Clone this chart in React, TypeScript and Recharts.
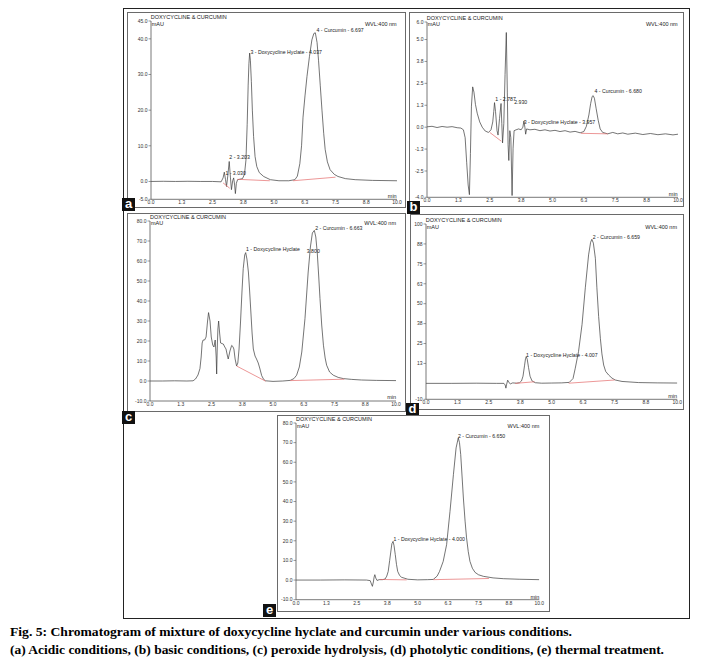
import React from 'react'
import { LineChart, Line, XAxis, YAxis, ReferenceDot } from 'recharts'

type Pt = [number, number | null]
type Note = [string, number, number]

// retention time axis, shared by all five runs
const minuteTicks = [0, 1.25, 2.5, 3.75, 5, 6.25, 7.5, 8.75, 10]

// (a) acidic
const traceA: Pt[] = [
  [0, 0], [0.5, 0.05], [1.0, 0], [1.5, 0.05], [2.0, 0], [2.5, 0], [2.85, -0.1], [2.93, 1.0], [2.98, 2.6],
  [3.03, 0.5], [3.07, -1.4], [3.12, 1.5], [3.18, 5.6], [3.23, 1.0], [3.27, -2.3], [3.32, 0.2], [3.36, 1.0],
  [3.4, -1.0], [3.43, -3.4], [3.47, -0.5], [3.52, 0.5], [3.6, 0.6], [3.72, 0.8], [3.8, 2.0], [3.86, 6],
  [3.91, 16], [3.95, 27], [3.98, 33], [4.01, 36], [4.04, 34], [4.08, 28], [4.12, 20], [4.17, 12.6], [4.23, 7],
  [4.3, 4.2], [4.4, 2.5], [4.58, 1.4], [4.85, 0.5], [5.2, 0.2], [5.6, 0.2], [5.85, 0.5], [5.95, 1.5], [6.05, 5],
  [6.12, 10], [6.18, 18], [6.26, 24], [6.34, 29.4], [6.44, 35], [6.54, 39.7], [6.62, 41.5], [6.68, 41.7],
  [6.75, 39], [6.81, 34], [6.88, 27], [6.95, 20], [7.02, 13.5], [7.08, 9], [7.17, 5.5], [7.28, 3.3], [7.45, 2.0],
  [7.6, 1.4], [7.9, 0.8], [8.3, 0.5], [9.0, 0.3], [10, 0.2],
]
const baseA: Pt[] = [[2.93, -0.4], [3.2, -1.9], [3.3, null], [3.52, 0.6], [4.83, 0.2], [5.2, null], [5.77, 0.2], [7.5, 1.2]]
const notesA: Note[] = [
  ['4 - Curcumin - 6.697', 6.72, 42.5],
  ['3 - Doxycycline Hyclate - 4.037', 4.04, 36.4],
  ['2 - 3.203', 3.18, 6.9],
  ['1 - 3.030', 3.02, 2.4],
]
const yTicksA = [-5, 0, 10, 20, 30, 40, 45]

// (b) basic
const traceB: Pt[] = [
  [0, 0.02], [0.2, 0.05], [0.4, -0.02], [0.6, 0.04], [0.8, 0.0], [1.0, 0.03], [1.2, -0.03], [1.35, -0.05],
  [1.45, -0.15], [1.52, -0.6], [1.58, -2.0], [1.64, -3.3], [1.69, -3.85], [1.73, -1.5], [1.77, 1.2], [1.82, 2.3],
  [1.87, 2.0], [1.93, 1.3], [2.0, 0.8], [2.1, 0.3], [2.2, 0.0], [2.32, -0.22], [2.45, -0.3], [2.55, -0.15],
  [2.62, 0.3], [2.66, 0.9], [2.69, 1.4], [2.73, 0.9], [2.79, -0.2], [2.83, -0.45], [2.89, 0.5], [2.95, 1.35],
  [2.98, 0.2], [3.01, -0.9], [3.06, 0.2], [3.11, 3.0], [3.16, 5.4], [3.2, 2.0], [3.23, -1.0], [3.26, -1.9],
  [3.3, -0.2], [3.34, -0.6], [3.39, -3.9], [3.43, -1.2], [3.47, -0.2], [3.55, -0.15], [3.65, -0.1], [3.75, -0.15],
  [3.82, 0.0], [3.86, 0.35], [3.9, 0.0], [3.93, -0.4], [3.97, -0.1], [4.1, -0.15], [4.3, -0.12], [4.5, -0.2],
  [4.7, -0.15], [4.9, -0.22], [5.1, -0.18], [5.3, -0.25], [5.5, -0.2], [5.7, -0.28], [5.9, -0.24], [6.1, -0.32],
  [6.25, -0.25], [6.35, 0.05], [6.45, 0.7], [6.52, 1.35], [6.58, 1.75], [6.62, 1.8], [6.67, 1.65], [6.74, 1.05],
  [6.82, 0.4], [6.9, -0.1], [7.0, -0.3], [7.2, -0.38], [7.4, -0.3], [7.6, -0.38], [7.8, -0.33], [8.0, -0.4],
  [8.3, -0.34], [8.6, -0.42], [8.9, -0.36], [9.2, -0.43], [9.5, -0.38], [9.8, -0.44], [10, -0.4],
]
const baseB: Pt[] = [[2.5, -0.3], [2.96, -0.8], [3.0, null], [6.13, -0.35], [7.2, -0.38]]
const notesB: Note[] = [
  ['1 - 2.787', 2.72, 1.62],
  ['2.930', 3.47, 1.42],
  ['3 - Doxycycline Hyclate - 3.957', 3.85, 0.27],
  ['4 - Curcumin - 6.680', 6.67, 2.06],
]
const yTicksB = [-4, -2.5, -1.25, 0, 1.25, 2.5, 3.75, 5, 6]

// (c) peroxide
const traceC: Pt[] = [
  [0, 0], [0.5, 0], [1.0, 0.1], [1.5, 0], [1.75, 0.1], [1.85, 1], [1.95, 3], [2.03, 6.2], [2.08, 12], [2.12, 19],
  [2.16, 20.5], [2.22, 20.5], [2.28, 22], [2.34, 30], [2.38, 34.2], [2.44, 30], [2.49, 22], [2.55, 18], [2.6, 17],
  [2.65, 20.5], [2.69, 12], [2.71, 3.5], [2.73, 15], [2.76, 26], [2.79, 30], [2.83, 24], [2.87, 19], [2.93, 18.7],
  [2.98, 18.5], [3.04, 17], [3.09, 16], [3.14, 13], [3.18, 11], [3.25, 15], [3.32, 17.8], [3.37, 17.2], [3.41, 16],
  [3.46, 11], [3.52, 7.5], [3.57, 9], [3.62, 16], [3.68, 29.5], [3.74, 45], [3.79, 56.2], [3.85, 63], [3.89, 64.2],
  [3.94, 61], [4.0, 54.5], [4.05, 45], [4.1, 34.5], [4.15, 24], [4.2, 16], [4.27, 12.5], [4.33, 11], [4.4, 9],
  [4.46, 6.5], [4.54, 2.7], [4.62, 0.8], [4.7, 0.1], [5.0, -0.2], [5.4, 0], [5.7, 0.3], [5.85, 1.2], [5.96, 2.9],
  [6.07, 7], [6.17, 14.5], [6.3, 31.2], [6.43, 54.5], [6.52, 67], [6.6, 74], [6.68, 75.3], [6.74, 72], [6.8, 64],
  [6.86, 52], [6.91, 41.2], [6.98, 28], [7.05, 17.9], [7.12, 11.5], [7.18, 7.9], [7.3, 4.5], [7.45, 2.9],
  [7.65, 1.8], [7.86, 1.2], [8.2, 0.8], [8.6, 0.5], [9.2, 0.3], [10, 0.2],
]
const baseC: Pt[] = [[3.52, 7.5], [4.7, -0.1], [5.0, null], [5.7, 0.2], [7.9, 0.9]]
const notesC: Note[] = [
  ['1 -  Doxycycline Hyclate', 3.9, 65.7],
  ['3.800', 6.37, 64.9],
  ['2 - Curcumin - 6.663', 6.71, 76.2],
]
const yTicksC = [-10, 0, 10, 20, 30, 40, 50, 60, 70, 80]

// (d) photolytic
const traceD: Pt[] = [
  [0, 0], [1, 0], [2, 0.1], [2.8, 0], [3.1, 0], [3.15, -1], [3.18, -3], [3.21, -0.5], [3.25, 2.0], [3.3, 0.5],
  [3.36, -0.3], [3.45, 0.3], [3.6, 0.1], [3.72, 0.4], [3.8, 1.5], [3.86, 4.5], [3.92, 11], [3.96, 15.5],
  [3.99, 16.8], [4.03, 15], [4.08, 10], [4.14, 4.5], [4.22, 1.5], [4.35, 0.4], [4.6, 0.1], [5.0, 0.2], [5.4, 0.3],
  [5.7, 0.6], [5.85, 3], [5.94, 9.5], [6.07, 20], [6.21, 37], [6.34, 60], [6.47, 80.6], [6.55, 88.5], [6.6, 90.4],
  [6.66, 88], [6.74, 78.5], [6.8, 60], [6.87, 42], [6.94, 28], [7.0, 18.5], [7.07, 11.5], [7.15, 7.5], [7.27, 5.2],
  [7.4, 3.3], [7.53, 2.1], [7.8, 1.2], [8.46, 0.5], [9.2, 0.3], [10, 0.2],
]
const baseD: Pt[] = [[3.55, 0], [4.32, 1.0], [4.4, null], [5.68, 0.1], [7.51, 2.1]]
const notesD: Note[] = [
  ['1 - Doxycycline Hyclate - 4.007', 3.98, 17.8],
  ['2 - Curcumin - 6.659', 6.63, 91.7],
]
const yTicksD = [-10, 12.5, 25, 37.5, 50, 62.5, 75, 87.5, 100]

// (e) thermal
const traceE: Pt[] = [
  [0, 0], [1, 0], [2, 0.1], [2.9, 0], [3.05, -0.3], [3.1, -2], [3.14, -3.2], [3.18, -1], [3.21, 1.5], [3.24, 2.75],
  [3.28, 1], [3.33, -0.2], [3.42, 0.2], [3.55, 0.2], [3.66, 0.5], [3.73, 2], [3.79, 4.4], [3.85, 10], [3.89, 13.8],
  [3.94, 18.5], [3.99, 19.7], [4.03, 17.5], [4.08, 13], [4.13, 8], [4.18, 4.4], [4.26, 2.3], [4.34, 1.4],
  [4.6, 0.4], [5.0, 0.1], [5.4, 0.2], [5.64, 0.3], [5.8, 2], [5.9, 4.4], [6.05, 9.5], [6.19, 18], [6.33, 35],
  [6.47, 53.7], [6.58, 67.3], [6.67, 72.4], [6.72, 70], [6.77, 63.9], [6.83, 52], [6.88, 41.8], [6.95, 30],
  [7.01, 21.5], [7.08, 14.5], [7.15, 9.5], [7.25, 6], [7.36, 3.9], [7.5, 2.7], [7.7, 1.9], [8.1, 1.1], [8.52, 0.7],
  [9.2, 0.4], [10, 0.2],
]
const baseE: Pt[] = [[3.45, 0.3], [4.55, 0.1], [4.6, null], [5.64, 0.2], [7.93, 0.8]]
const notesE: Note[] = [
  ['1 - Doxycycline Hyclate - 4.000', 4.0, 20.6],
  ['2 - Curcumin - 6.650', 6.65, 73.2],
]
const yTicksE = [-10, 0, 10, 20, 30, 40, 50, 60, 70, 80]

const captionLines = [
  'Fig. 5: Chromatogram of mixture of doxycycline hyclate and curcumin under various conditions.',
  '(a) Acidic conditions, (b) basic conditions, (c) peroxide hydrolysis, (d) photolytic conditions, (e) thermal treatment.',
]

const sans = '"Liberation Sans", Arial, sans-serif'
const ink = '#333'

const steps = (a: number, b: number, s: number) => {
  const out: number[] = []
  for (let v = a; v <= b + 1e-9; v += s) out.push(Math.round(v * 1000) / 1000)
  return out
}
const rows = (pts: Pt[]) => pts.map(([t, v]) => ({ t, v }))

type Box = { left: number; top: number; right: number; bottom: number }

function Txt({ x, y, end, children }: { x: number; y: number; end?: boolean; children: React.ReactNode }) {
  return (
    <div style={{
      position: 'absolute', left: x, top: y - 3, fontSize: 5.5, lineHeight: '6px', whiteSpace: 'nowrap',
      color: '#222', fontFamily: sans, transform: end ? 'translateX(-100%)' : undefined,
    }}>{children}</div>
  )
}

function Chromatogram(props: {
  plot: Box; frame: Box; tag: string; tagAt: [number, number]
  trace: Pt[]; base: Pt[]; notes: Note[]
  yDomain: [number, number]; yTicks: number[]; yMinor: number; yFmt: (v: number) => string
}) {
  const { plot, frame, tag, tagAt, trace, base, notes, yDomain, yTicks, yMinor, yFmt } = props
  const w = plot.right - plot.left
  const h = plot.bottom - plot.top
  const minorY = steps(yDomain[0], yDomain[1], yMinor)
  const minorX = steps(0, 10, 0.25)
  return (
    <>
      <div style={{
        position: 'absolute', left: frame.left, top: frame.top, width: frame.right - frame.left,
        height: frame.bottom - frame.top, border: '1px solid #6a6a6a', boxSizing: 'border-box',
      }} />
      <div style={{ position: 'absolute', left: plot.left - 30, top: plot.top - 12, fontFamily: sans }}>
        <LineChart width={w + 42} height={h + 24} margin={{ top: 12, right: 12, bottom: 0, left: 0 }}>
          <XAxis type="number" dataKey="t" domain={[0, 10]} ticks={minuteTicks} interval={0}
            tickFormatter={(v: number) => v.toFixed(1)} height={12} tickLine={false} tickSize={1} tickMargin={0.5}
            axisLine={{ stroke: '#555', strokeWidth: 0.8 }} tick={{ fontSize: 5, fill: ink }} allowDataOverflow />
          <XAxis xAxisId="minor" type="number" domain={[0, 10]} ticks={minorX} interval={0} mirror height={4}
            tick={false} tickSize={1.8} axisLine={false} tickLine={{ stroke: '#555', strokeWidth: 0.6 }} />
          <YAxis type="number" domain={yDomain} ticks={yTicks} interval={0} tickFormatter={yFmt} width={30}
            tickSize={2.5} tickMargin={1} axisLine={{ stroke: '#555', strokeWidth: 0.8 }}
            tickLine={{ stroke: '#555', strokeWidth: 0.6 }} tick={{ fontSize: 5, fill: ink }} allowDataOverflow />
          <YAxis yAxisId="minor" type="number" domain={yDomain} ticks={minorY} interval={0} mirror width={4}
            tick={false} tickSize={1.5} axisLine={false} tickLine={{ stroke: '#555', strokeWidth: 0.6 }} />
          <Line data={rows(trace)} dataKey="v" type="linear" stroke="#3a3a3a" strokeWidth={0.7} dot={false}
            isAnimationActive={false} />
          <Line data={rows(base)} dataKey="v" type="linear" stroke="#e46a6a" strokeWidth={0.7} dot={false}
            connectNulls={false} isAnimationActive={false} />
          {notes.map(([text, t, v]) => (
            <ReferenceDot key={text} x={t} y={v} r={0.1} fill="none" stroke="none"
              label={{ value: text, position: 'right', offset: 0, fontSize: 5.2, fill: '#222' }} />
          ))}
        </LineChart>
      </div>
      <Txt x={plot.left} y={plot.top - 4}>DOXYCYCLINE &amp; CURCUMIN</Txt>
      <Txt x={plot.left + 1} y={plot.top + 2.6}>mAU</Txt>
      <Txt x={plot.right} y={plot.top + 2.6} end>WVL:400 nm</Txt>
      <Txt x={plot.right} y={plot.bottom - 3.5} end>min</Txt>
      <div style={{
        position: 'absolute', left: tagAt[0], top: tagAt[1], width: 13, height: 13, background: '#111',
        color: '#fff', fontFamily: sans, fontWeight: 'bold', fontSize: 13, lineHeight: '11px', textAlign: 'center',
      }}>{tag}</div>
    </>
  )
}

const fmt1 = (v: number) => v.toFixed(1)
const fmtInt = (v: number) => String(Math.round(v))

export default function App() {
  return (
    <div style={{ position: 'absolute', left: 0, top: 0, width: 702, height: 660, background: '#fff' }}>
      <div style={{ position: 'absolute', left: 123, top: 8, width: 567, height: 611, border: '1px solid #222', boxSizing: 'border-box' }} />
      <Chromatogram tag="a" tagAt={[122, 198]} frame={{ left: 127, top: 12, right: 406, bottom: 208 }}
        plot={{ left: 150.7, top: 21.2, right: 396.7, bottom: 199.5 }}
        trace={traceA} base={baseA} notes={notesA} yDomain={[-5, 45]} yTicks={yTicksA} yMinor={2} yFmt={fmt1} />
      <Chromatogram tag="b" tagAt={[407, 201]} frame={{ left: 409, top: 12, right: 684, bottom: 207 }}
        plot={{ left: 426.7, top: 21.7, right: 677.7, bottom: 197 }}
        trace={traceB} base={baseB} notes={notesB} yDomain={[-4, 6]} yTicks={yTicksB} yMinor={0.25} yFmt={fmt1} />
      <Chromatogram tag="c" tagAt={[122, 411]} frame={{ left: 127, top: 213, right: 406, bottom: 412 }}
        plot={{ left: 150, top: 220.7, right: 396, bottom: 400.7 }}
        trace={traceC} base={baseC} notes={notesC} yDomain={[-10, 80]} yTicks={yTicksC} yMinor={2} yFmt={fmt1} />
      <Chromatogram tag="d" tagAt={[406, 403]} frame={{ left: 410, top: 214, right: 684, bottom: 410 }}
        plot={{ left: 425.7, top: 224, right: 677, bottom: 399.3 }}
        trace={traceD} base={baseD} notes={notesD} yDomain={[-10, 100]} yTicks={yTicksD} yMinor={2.5} yFmt={fmtInt} />
      <Chromatogram tag="e" tagAt={[263, 604]} frame={{ left: 277, top: 415, right: 550, bottom: 612 }}
        plot={{ left: 296, top: 423.3, right: 539.3, bottom: 600 }}
        trace={traceE} base={baseE} notes={notesE} yDomain={[-10, 80]} yTicks={yTicksE} yMinor={2} yFmt={fmt1} />
      <svg width={702} height={40} style={{ position: 'absolute', left: 0, top: 622 }}>
        <text x={10} y={14} textLength={562} lengthAdjust="spacingAndGlyphs"
          style={{ fontFamily: '"Liberation Serif", "Times New Roman", serif', fontWeight: 'bold', fontSize: 12.5 }}>
          {captionLines[0]}
        </text>
        <text x={10} y={32} textLength={654} lengthAdjust="spacingAndGlyphs"
          style={{ fontFamily: '"Liberation Serif", "Times New Roman", serif', fontWeight: 'bold', fontSize: 12.5 }}>
          {captionLines[1]}
        </text>
      </svg>
    </div>
  )
}
